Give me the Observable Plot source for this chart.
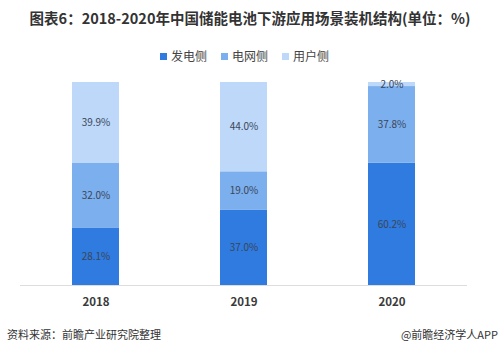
<!DOCTYPE html>
<html><head><meta charset="utf-8">
<script src="https://cdn.jsdelivr.net/npm/d3@7"></script>
<script src="https://cdn.jsdelivr.net/npm/@observablehq/plot@0.6"></script>
<style>
body{margin:0;background:#fff;font-family:"Noto Sans CJK SC","Noto Sans",sans-serif;}
#wrap{position:relative;width:500px;height:352px;overflow:hidden;}
#title{position:absolute;top:8px;left:0;width:500px;text-align:center;font-size:14.5px;font-weight:bold;color:#333;line-height:20px;}
#legend{position:absolute;top:47px;left:160px;font-size:12px;color:#444;line-height:18px;white-space:nowrap;}
#legend span.item{display:inline-block;margin-right:14px;}
#legend i{display:inline-block;width:7px;height:7px;margin-right:4px;vertical-align:1px;}
#chart{position:absolute;top:70px;left:0;}
#src{position:absolute;top:326px;left:7px;font-size:11px;color:#333;line-height:16px;}
#app{position:absolute;top:326px;right:2px;font-size:11px;color:#333;line-height:16px;}
</style></head>
<body><div id="wrap">
<div id="title">图表6：2018-2020年中国储能电池下游应用场景装机结构(单位：%)</div>
<div id="legend"></div>
<div id="chart"></div>
<div id="src">资料来源：前瞻产业研究院整理</div>
<div id="app">@前瞻经济学人APP</div>
</div>
<script>
const years = ["2018", "2019", "2020"];
const series = ["发电侧", "电网侧", "用户侧"];
const colors = ["#2f7be0", "#7cafee", "#bdd8f8"];
const generation = [28.1, 37.0, 60.2];
const grid = [32.0, 19.0, 37.8];
const user = [39.9, 44.0, 2.0];

const values = [generation, grid, user];
const data = [];
series.forEach((s, si) => years.forEach((y, yi) => data.push({year: y, series: s, value: values[si][yi]})));

const leg = document.getElementById("legend");
series.forEach((s, i) => {
  const el = document.createElement("span");
  el.className = "item";
  el.innerHTML = `<i style="background:${colors[i]}"></i>${s}`;
  leg.appendChild(el);
});

const chart = Plot.plot({
  width: 500,
  height: 245,
  marginTop: 12,
  marginBottom: 30,
  marginLeft: 20,
  marginRight: 33,
  style: {fontFamily: "'Noto Sans CJK SC','Noto Sans',sans-serif", background: "#fff"},
  x: {domain: years, paddingInner: 0.68, paddingOuter: 0.35, label: null, tickSize: 0, tickPadding: 12},
  y: {domain: [0, 100], axis: null},
  color: {domain: series, range: colors},
  marks: [
    Plot.ruleY([0], {stroke: "#dddddd", strokeWidth: 1}),
    Plot.barY(data, {x: "year", y: "value", z: "series", fill: "series", order: series}),
    Plot.text(data, Plot.stackY({x: "year", y: "value", z: "series", order: series, text: d => d.value.toFixed(1) + "%", fill: "#3a4658", fontSize: 10}))
  ]
});
chart.querySelectorAll("[aria-label='x-axis tick label'] text").forEach(t => {
  t.setAttribute("font-size", "11.5"); t.setAttribute("font-weight", "bold"); t.setAttribute("fill", "#3a3a3a");
});
document.getElementById("chart").appendChild(chart);
</script>
</body></html>
